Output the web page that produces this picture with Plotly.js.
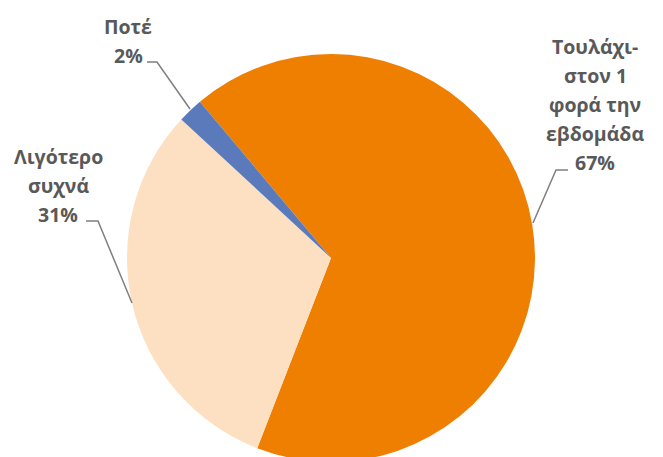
<!DOCTYPE html>
<html>
<head>
<meta charset="utf-8">
<script src="https://cdn.plot.ly/plotly-3.0.1.min.js"></script>
<style>
html,body{margin:0;padding:0;overflow:hidden;background:#fff;}
#chart{width:663px;height:470px;}
</style>
</head>
<body>
<div id="chart"></div>
<script>
// ---- data ----
const categories = ["Τουλάχι-<br>στον 1<br>φορά την<br>εβδομάδα", "Λιγότερο<br>συχνά", "Ποτέ"];
const values = [67, 31, 2];
const percentLabels = ["67%", "31%", "2%"];

// ---- styles / layout helpers ----
const sliceColors = ["#EF7F00", "#FDDFC2", "#5B7ABB"];
const W = 663, H = 470;
const M = {l: 127, r: 128, t: 54, b: 8};
const PW = W - M.l - M.r, PH = H - M.t - M.b;
const px = x => (x - M.l) / PW;
const py = y => (H - M.b - y) / PH;

const fontFamily = "'Open Sans', 'Noto Sans', sans-serif";
const fontSize = 19.5;
const lineGap = 29;
const textColor = "#595959";

// label block placement: centre x, baseline of last line (pixels)
const labelPos = [
  {cx: 595, lastBase: 170},
  {cx: 58, lastBase: 222},
  {cx: 128, lastBase: 63}
];
// leader lines (pixels)
const leaderPaths = [
  [[568,170],[556,170],[533,223]],
  [[86,221],[98,221],[132,303]],
  [[147,62],[157,62],[190,109]]
];

const annotations = [];
categories.forEach((c, i) => {
  const lines = c.split("<br>").concat([percentLabels[i]]);
  const n = lines.length;
  lines.forEach((ln, j) => {
    const base = labelPos[i].lastBase - (n - 1 - j) * lineGap;
    annotations.push({
      xref: "paper", yref: "paper",
      x: px(labelPos[i].cx), y: py(base - 0.4 * fontSize),
      xanchor: "center", yanchor: "middle",
      text: "<b>" + ln + "</b>", showarrow: false,
      font: {family: fontFamily, size: fontSize, color: textColor}
    });
  });
});

const shapes = leaderPaths.map(p => ({
  type: "path", xref: "paper", yref: "paper",
  path: p.map((pt, k) => (k ? "L" : "M") + px(pt[0]) + "," + py(pt[1])).join(" "),
  line: {color: "#7F7F7F", width: 1.5}
}));

const trace = {
  type: "pie",
  labels: categories,
  values: values,
  sort: false,
  direction: "clockwise",
  rotation: -40,
  textinfo: "none",
  hoverinfo: "none",
  marker: {colors: sliceColors, line: {width: 0}},
  domain: {x: [0, 1], y: [0, 1]}
};

const layout = {
  width: W, height: H,
  margin: M,
  showlegend: false,
  paper_bgcolor: "#fff",
  plot_bgcolor: "#fff",
  annotations: annotations,
  shapes: shapes
};

Plotly.newPlot("chart", [trace], layout, {displayModeBar: false, staticPlot: true});
</script>
</body>
</html>
